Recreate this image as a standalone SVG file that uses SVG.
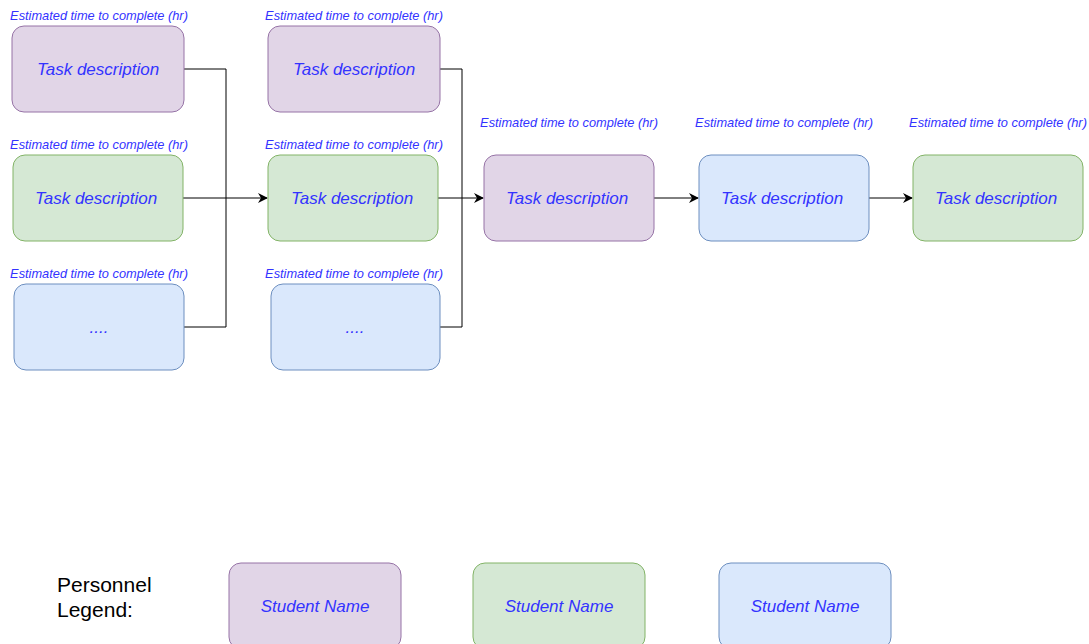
<svg xmlns="http://www.w3.org/2000/svg" width="1089" height="644" viewBox="0 0 1089 644">
<style>
.p{fill:#e1d5e7;stroke:#9673a6;stroke-width:1}
.g{fill:#d5e8d4;stroke:#82b366;stroke-width:1}
.b{fill:#dae8fc;stroke:#6c8ebf;stroke-width:1}
.lbl{font-family:"Liberation Sans",Arial,sans-serif;font-style:italic;font-size:12.8px;fill:#3333ff;text-anchor:middle}
.t{font-family:"Liberation Sans",Arial,sans-serif;font-style:italic;font-size:17px;fill:#3333ff;text-anchor:middle}
.leg{font-family:"Liberation Sans",Arial,sans-serif;font-size:21px;fill:#000}
.c{fill:none;stroke:#000;stroke-width:1}
</style>
<defs>
<marker id="ar" viewBox="0 0 10 10" refX="9" refY="5" markerWidth="10" markerHeight="10" markerUnits="userSpaceOnUse" orient="auto">
<path d="M0,0 L10,5 L0,10 L3,5 Z" fill="#000"/>
</marker>
</defs>
<g id="connectors">
<path class="c" d="M184,69 H226 V327 H184"/>
<path class="c" d="M183,198 H267" marker-end="url(#ar)"/>
<path class="c" d="M440,69 H462 V327 H440"/>
<path class="c" d="M438,198 H483" marker-end="url(#ar)"/>
<path class="c" d="M654,198 H698" marker-end="url(#ar)"/>
<path class="c" d="M869,198 H912" marker-end="url(#ar)"/>
</g>
<g id="n1">
<text class="lbl" x="99" y="19.5">Estimated time to complete (hr)</text>
<rect class="p" x="12" y="26" width="172" height="86" rx="12"/>
<text class="t" x="98" y="75">Task description</text>
</g>
<g id="n2">
<text class="lbl" x="99" y="148.5">Estimated time to complete (hr)</text>
<rect class="g" x="13" y="155" width="170" height="86" rx="12"/>
<text class="t" x="96" y="204">Task description</text>
</g>
<g id="n3">
<text class="lbl" x="99" y="277.5">Estimated time to complete (hr)</text>
<rect class="b" x="14" y="284" width="170" height="86" rx="12"/>
<text class="t" x="99" y="333">....</text>
</g>
<g id="n4">
<text class="lbl" x="354" y="19.5">Estimated time to complete (hr)</text>
<rect class="p" x="268" y="26" width="172" height="86" rx="12"/>
<text class="t" x="354" y="75">Task description</text>
</g>
<g id="n5">
<text class="lbl" x="354" y="148.5">Estimated time to complete (hr)</text>
<rect class="g" x="268" y="155" width="170" height="86" rx="12"/>
<text class="t" x="352" y="204">Task description</text>
</g>
<g id="n6">
<text class="lbl" x="354" y="277.5">Estimated time to complete (hr)</text>
<rect class="b" x="271" y="284" width="169" height="86" rx="12"/>
<text class="t" x="355" y="333">....</text>
</g>
<g id="n7">
<text class="lbl" x="569" y="126.5">Estimated time to complete (hr)</text>
<rect class="p" x="484" y="155" width="170" height="86" rx="12"/>
<text class="t" x="567" y="204">Task description</text>
</g>
<g id="n8">
<text class="lbl" x="784" y="126.5">Estimated time to complete (hr)</text>
<rect class="b" x="699" y="155" width="170" height="86" rx="12"/>
<text class="t" x="782" y="204">Task description</text>
</g>
<g id="n9">
<text class="lbl" x="998" y="126.5">Estimated time to complete (hr)</text>
<rect class="g" x="913" y="155" width="170" height="86" rx="12"/>
<text class="t" x="996" y="204">Task description</text>
</g>
<g id="legend">
<text class="leg" x="57" y="591.5">Personnel</text>
<text class="leg" x="57" y="616.5">Legend:</text>
</g>
<g id="l1">
<rect class="p" x="229" y="563" width="172" height="86" rx="12"/>
<text class="t" x="315" y="612">Student Name</text>
</g>
<g id="l2">
<rect class="g" x="473" y="563" width="172" height="86" rx="12"/>
<text class="t" x="559" y="612">Student Name</text>
</g>
<g id="l3">
<rect class="b" x="719" y="563" width="172" height="86" rx="12"/>
<text class="t" x="805" y="612">Student Name</text>
</g>
</svg>
